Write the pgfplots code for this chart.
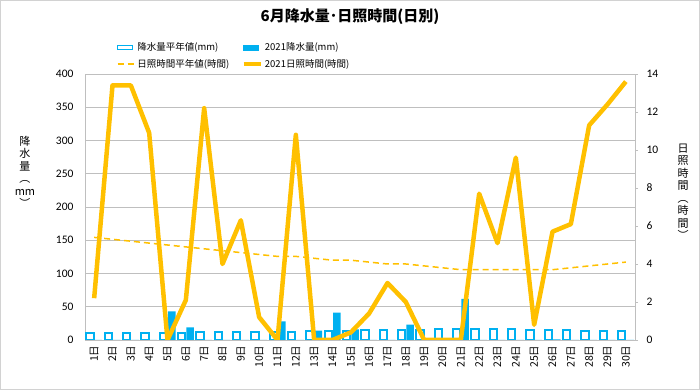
\documentclass[border=0pt]{standalone}
\usepackage{pgfplots}
\pgfplotsset{compat=1.18}
\usepackage{pgfplotstable}
\usepackage{fontspec}
\setmainfont{Carlito}
\newfontfamily\jp{Noto Sans CJK JP}
\definecolor{barblue}{HTML}{00B0F0}
\definecolor{sunyel}{HTML}{FFC000}
\definecolor{gridgray}{HTML}{BFBFBF}

\pgfplotstableread{
day avg y2021
1 11 0
2 11 0
3 11 0
4 11 0
5 11 43
6 11 19
7 11.5 0
8 11.5 0
9 11.5 0
10 12 0
11 12 28
12 12.5 0
13 13 14
14 14 41
15 14 16
16 15 0
17 15 0
18 15 23
19 15.5 0
20 16 0
21 16 62
22 16 0
23 16 0
24 16 0
25 15.5 0
26 14.5 1
27 14.5 0
28 14 0
29 14 0
30 14 0
}\rain

\pgfplotstableread{
day avg y2021
1 5.4 2.2
2 5.3 13.4
3 5.2 13.4
4 5.1 10.9
5 5.0 0
6 4.9 2.1
7 4.8 12.2
8 4.7 4.0
9 4.6 6.3
10 4.5 1.2
11 4.4 0
12 4.4 10.8
13 4.3 0
14 4.2 0
15 4.2 0.4
16 4.1 1.4
17 4.0 3.0
18 4.0 2.0
19 3.9 0
20 3.8 0
21 3.7 0
22 3.7 7.7
23 3.7 5.1
24 3.7 9.6
25 3.7 0.8
26 3.7 5.7
27 3.8 6.1
28 3.9 11.3
29 4.0 12.4
30 4.1 13.6
}\sun

\begin{document}
\begin{tikzpicture}[x=1pt,y=1pt]
\path[use as bounding box] (-85,-50) rectangle (615,340);
\draw[gray!35, line width=1pt] (-84.5,-49.5) rectangle (614.5,339.5);

\begin{axis}[
  width=550pt, height=266pt, scale only axis,
  xmin=0.5, xmax=30.5, ymin=0, ymax=400,
  ytick={0,50,...,400},
  xtick={1,...,30},
  xticklabel={\jp\pgfmathprintnumber{\tick}日},
  x tick label style={rotate=90, anchor=east, font=\fontsize{10.5}{12}\selectfont, xshift=-2pt},
  y tick label style={font=\fontsize{11.5}{13}\selectfont, xshift=-8pt},
  /pgf/number format/assume math mode=true,
  ymajorgrids, grid style={gridgray, line width=0.75pt},
  axis line style={gridgray, line width=0.75pt},
  major tick length=0pt,
  ybar=1pt, bar width=7.5pt,
]
\addplot[draw=barblue, fill=white, line width=2pt] table[x=day,y=avg]{\rain};
\addplot[draw=none, fill=barblue] table[x=day,y=y2021]{\rain};
\end{axis}

\begin{axis}[
  width=550pt, height=266pt, scale only axis,
  xmin=0.5, xmax=30.5, ymin=0, ymax=14,
  ytick={0,2,...,14},
  axis y line*=right, axis x line=none,
  axis line style={-, gridgray, line width=0.75pt},
  tick align=outside, major tick length=3pt,
  ytick style={gridgray},
  y tick label style={font=\fontsize{11.5}{13}\selectfont, xshift=5pt},
  /pgf/number format/assume math mode=true,
  legend columns=2,
  legend cell align=left,
  legend style={draw=none, fill=none, at={(axis description cs:0.052,1)}, anchor=south west, yshift=1pt,
    font=\jp\fontsize{9.5}{11}\selectfont, /tikz/row sep=3pt},
]
\addlegendimage{legend image code/.code={\draw[draw=barblue,fill=white,line width=1.2pt] (0pt,-2pt) rectangle (15pt,2pt);}}
\addlegendentry{\makebox[102pt][l]{降水量平年値(mm)}}
\addlegendimage{legend image code/.code={\fill[barblue] (0pt,-2.5pt) rectangle (15pt,2.5pt);}}
\addlegendentry{2021降水量(mm)}
\addplot[sunyel, line width=1.5pt, dash pattern=on 6pt off 4pt] table[x=day,y=avg]{\sun};
\addlegendentry{\makebox[102pt][l]{日照時間平年値(時間)}}
\addplot[sunyel, line width=4.5pt, line join=round] table[x=day,y=y2021]{\sun};
\addlegendentry{2021日照時間(時間)}
\end{axis}

\node[font=\jp\bfseries\fontsize{15}{17}\selectfont] at (265,323) {6月降水量･日照時間(日別)};
\node[font=\jp\fontsize{11}{12.5}\selectfont, align=center] at (-60,168) {降\\水\\量\\︵\\mm\\︶};
\node[font=\jp\fontsize{11}{12.5}\selectfont, align=center] at (598,148) {日\\照\\時\\間\\︵\\時\\間\\︶};
\end{tikzpicture}
\end{document}
